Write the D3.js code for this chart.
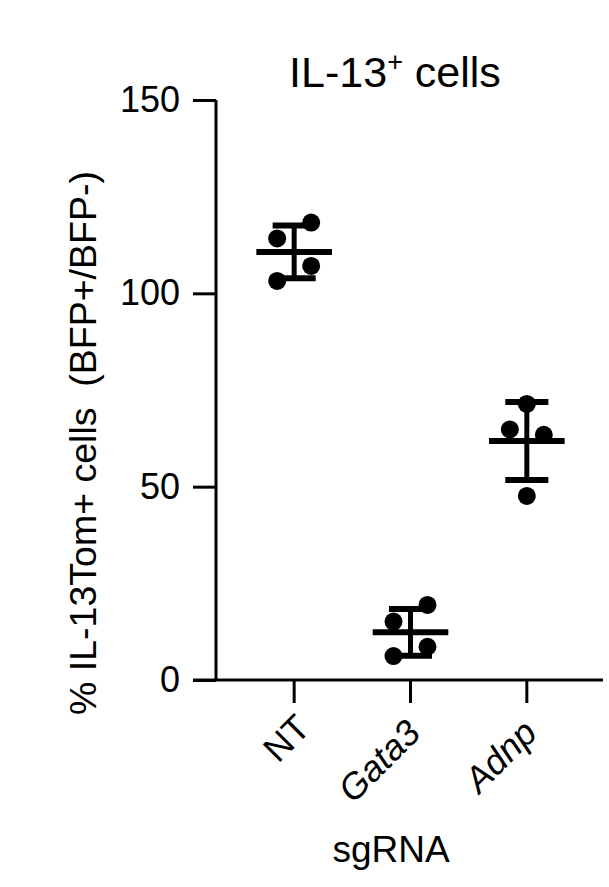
<!DOCTYPE html>
<html>
<head>
<meta charset="utf-8">
<script src="https://cdn.jsdelivr.net/npm/d3@7"></script>
<style>
  html, body { margin: 0; padding: 0; background: #fff; }
  svg { display: block; }
  text { font-family: Arial, "Liberation Sans", Helvetica, sans-serif; fill: #000; }
</style>
</head>
<body>
<script>
// ---- data ----
const categories = ["NT", "Gata3", "Adnp"];
const italicCats = [false, true, true];
const ntValues = [118.3, 114.2, 107.1, 103.2];
const gata3Values = [19.4, 15.1, 8.6, 6.2];
const adnpValues = [71.4, 64.8, 63.4, 47.6];
const ntSlots = [1, -1, 1, -1];
const gata3Slots = [1, -1, 1, -1];
const adnpSlots = [0, -1, 1, 0];
const yTicks = [0, 50, 100, 150];
const titleMain = "IL-13";
const titleSup = "+";
const titleRest = " cells";
const yLabel = "% IL-13Tom+ cells  (BFP+/BFP-)";
const xLabel = "sgRNA";

const groups = [
  { cat: categories[0], values: ntValues, slots: ntSlots },
  { cat: categories[1], values: gata3Values, slots: gata3Slots },
  { cat: categories[2], values: adnpValues, slots: adnpSlots }
];
groups.forEach(g => {
  g.mean = d3.mean(g.values);
  g.sd = d3.deviation(g.values);
});

const W = 609, H = 887;
const svg = d3.select("body").append("svg").attr("width", W).attr("height", H);

const y = d3.scaleLinear().domain([0, 150]).range([680, 100]);
const x = d3.scaleBand().domain(categories).range([236, 585]).padding(0);
const cx = c => x(c) + x.bandwidth() / 2;
const bw = x.bandwidth();

// y axis
const yAxis = svg.append("g").attr("transform", "translate(216,0)")
  .call(d3.axisLeft(y).tickValues(yTicks).tickSize(23).tickSizeOuter(0).tickPadding(13).tickFormat(d3.format("d")));
yAxis.select(".domain").attr("stroke", "#000").attr("stroke-width", 3).attr("d", `M0,${y(150)}V${y(0)}`);
yAxis.selectAll(".tick line").attr("stroke", "#000").attr("stroke-width", 3);
yAxis.selectAll(".tick text").attr("font-size", 36).attr("font-family", "Arial, 'Liberation Sans', sans-serif").attr("fill", "#000");

// x axis
const xAxis = svg.append("g").attr("transform", "translate(0,680)")
  .call(d3.axisBottom(x).tickSize(23).tickSizeOuter(0).tickFormat(""));
xAxis.select(".domain").remove();
xAxis.selectAll(".tick line").attr("stroke", "#000").attr("stroke-width", 3);
svg.append("line").attr("x1", 193).attr("x2", 603).attr("y1", y(0)).attr("y2", y(0))
  .attr("stroke", "#000").attr("stroke-width", 3);

// category labels (rotated, right-anchored under each tick)
svg.selectAll("text.cat").data(categories).join("text")
  .attr("class", "cat")
  .attr("text-anchor", "end")
  .attr("font-size", 36)
  .attr("font-style", (d, i) => italicCats[i] ? "italic" : "normal")
  .attr("transform", (d, i) => italicCats[i]
    ? `translate(${cx(d) + 12},${y(0) + 55}) rotate(-45)`
    : `translate(${cx(d) + 18},${y(0) + 50}) rotate(-45)`)
  .text(d => d);

// points
const dotR = 9, slotW = 17;
groups.forEach(g => {
  svg.append("g").selectAll("circle").data(g.values).join("circle")
    .attr("cx", (d, i) => cx(g.cat) + g.slots[i] * slotW)
    .attr("cy", d => y(d))
    .attr("r", dotR)
    .attr("fill", "#000");
});

// mean & SD
const eb = svg.append("g").attr("stroke", "#000").attr("fill", "none");
groups.forEach(g => {
  const c = cx(g.cat);
  eb.append("line").attr("x1", c).attr("x2", c).attr("y1", y(g.mean + g.sd)).attr("y2", y(g.mean - g.sd)).attr("stroke-width", 5);
  eb.append("line").attr("x1", c - bw * 0.185).attr("x2", c + bw * 0.185).attr("y1", y(g.mean + g.sd)).attr("y2", y(g.mean + g.sd)).attr("stroke-width", 6);
  eb.append("line").attr("x1", c - bw * 0.185).attr("x2", c + bw * 0.185).attr("y1", y(g.mean - g.sd)).attr("y2", y(g.mean - g.sd)).attr("stroke-width", 6);
  eb.append("line").attr("x1", c - bw * 0.325).attr("x2", c + bw * 0.325).attr("y1", y(g.mean)).attr("y2", y(g.mean)).attr("stroke-width", 6);
});

// title
const t = svg.append("text").attr("x", 395).attr("y", 87).attr("text-anchor", "middle").attr("font-size", 43);
t.append("tspan").text(titleMain);
t.append("tspan").attr("font-size", 27).attr("dy", -16).text(titleSup);
t.append("tspan").attr("dy", 16).text(titleRest);

// axis titles
svg.append("text").attr("x", 391).attr("y", 862).attr("text-anchor", "middle").attr("font-size", 37).text(xLabel);
svg.append("text").attr("transform", "translate(96,443) rotate(-90)").attr("text-anchor", "middle")
  .attr("font-size", 37.5).style("white-space", "pre").text(yLabel);
</script>
</body>
</html>
